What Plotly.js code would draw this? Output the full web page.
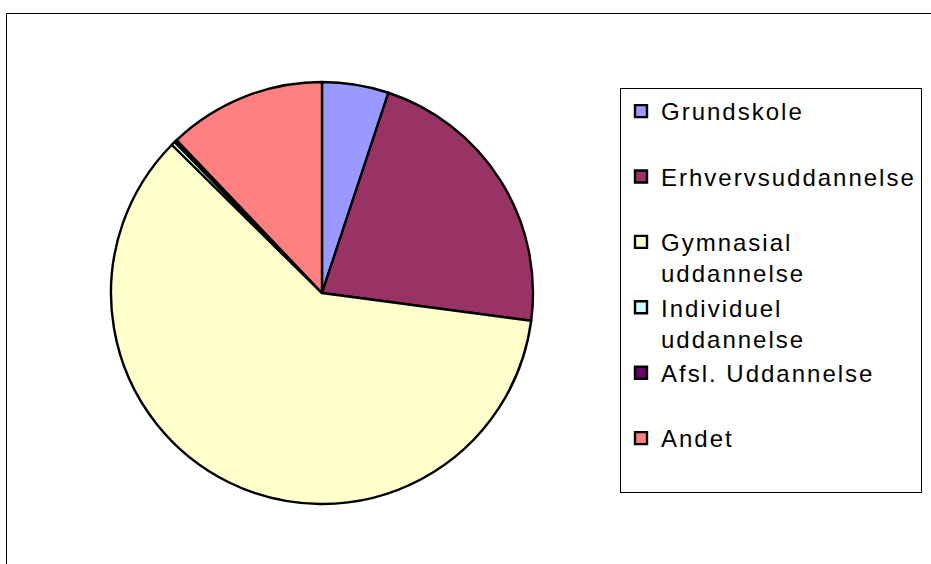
<!DOCTYPE html>
<html>
<head>
<meta charset="utf-8">
<script src="https://cdn.plot.ly/plotly-3.0.1.min.js"></script>
<style>
  html, body { margin: 0; padding: 0; background: #fff; }
  #chart { width: 931px; height: 564px; }
  text.legendtext { letter-spacing: 2px; }
</style>
</head>
<body>
<div id="chart"></div>
<script>
// Categories (legend entries, in the original Danish)
const categories = [
  "Grundskole",
  "Erhvervsuddannelse",
  "Gymnasial uddannelse",
  "Individuel uddannelse",
  "Afsl. Uddannelse",
  "Andet"
];
// Shares in percent
const shares = [5.1, 22.0, 60.3, 0.3, 0.2, 12.1];
// Slice colours
const sliceColors = ["#9999FF", "#993366", "#FFFFCC", "#CCFFFF", "#660066", "#FF8080"];

// Legend text: wrap two-word names like the reference, keep each entry two lines tall
function legendLabel(name) {
  const parts = name.split(" ");
  if (parts.length === 2 && name.length > 16 && parts[1] === "uddannelse") {
    return parts[0] + "<br>" + parts[1];
  }
  return name + "<br> ";
}
const labels = categories.map(legendLabel);

const W = 931, H = 564;

const trace = {
  type: "pie",
  labels: labels,
  values: shares,
  sort: false,
  direction: "clockwise",
  rotation: 0,
  textinfo: "none",
  hoverinfo: "label+percent",
  marker: { colors: sliceColors, line: { color: "#000000", width: 2.4 } },
  domain: { x: [111 / W, 533 / W], y: [1 - 504 / H, 1 - 82 / H] }
};

const layout = {
  width: W,
  height: H,
  margin: { l: 0, r: 0, t: 0, b: 0, pad: 0 },
  paper_bgcolor: "#ffffff",
  plot_bgcolor: "#ffffff",
  showlegend: true,
  legend: {
    x: 620 / W,
    y: 1 - 88 / H,
    xanchor: "left",
    yanchor: "top",
    valign: "top",
    bgcolor: "#ffffff",
    bordercolor: "#000000",
    borderwidth: 1,
    font: { family: "Liberation Sans, Arial, sans-serif", size: 24, color: "#000000" }
  },
  shapes: [
    {
      type: "rect", xref: "paper", yref: "paper",
      x0: 6.5 / W, x1: 1.02, y0: -0.02, y1: 1 - 13.5 / H,
      line: { color: "#000000", width: 1 }, fillcolor: "rgba(0,0,0,0)", layer: "below"
    }
  ]
};

Plotly.newPlot("chart", [trace], layout, { displayModeBar: false, staticPlot: true });
</script>
</body>
</html>
